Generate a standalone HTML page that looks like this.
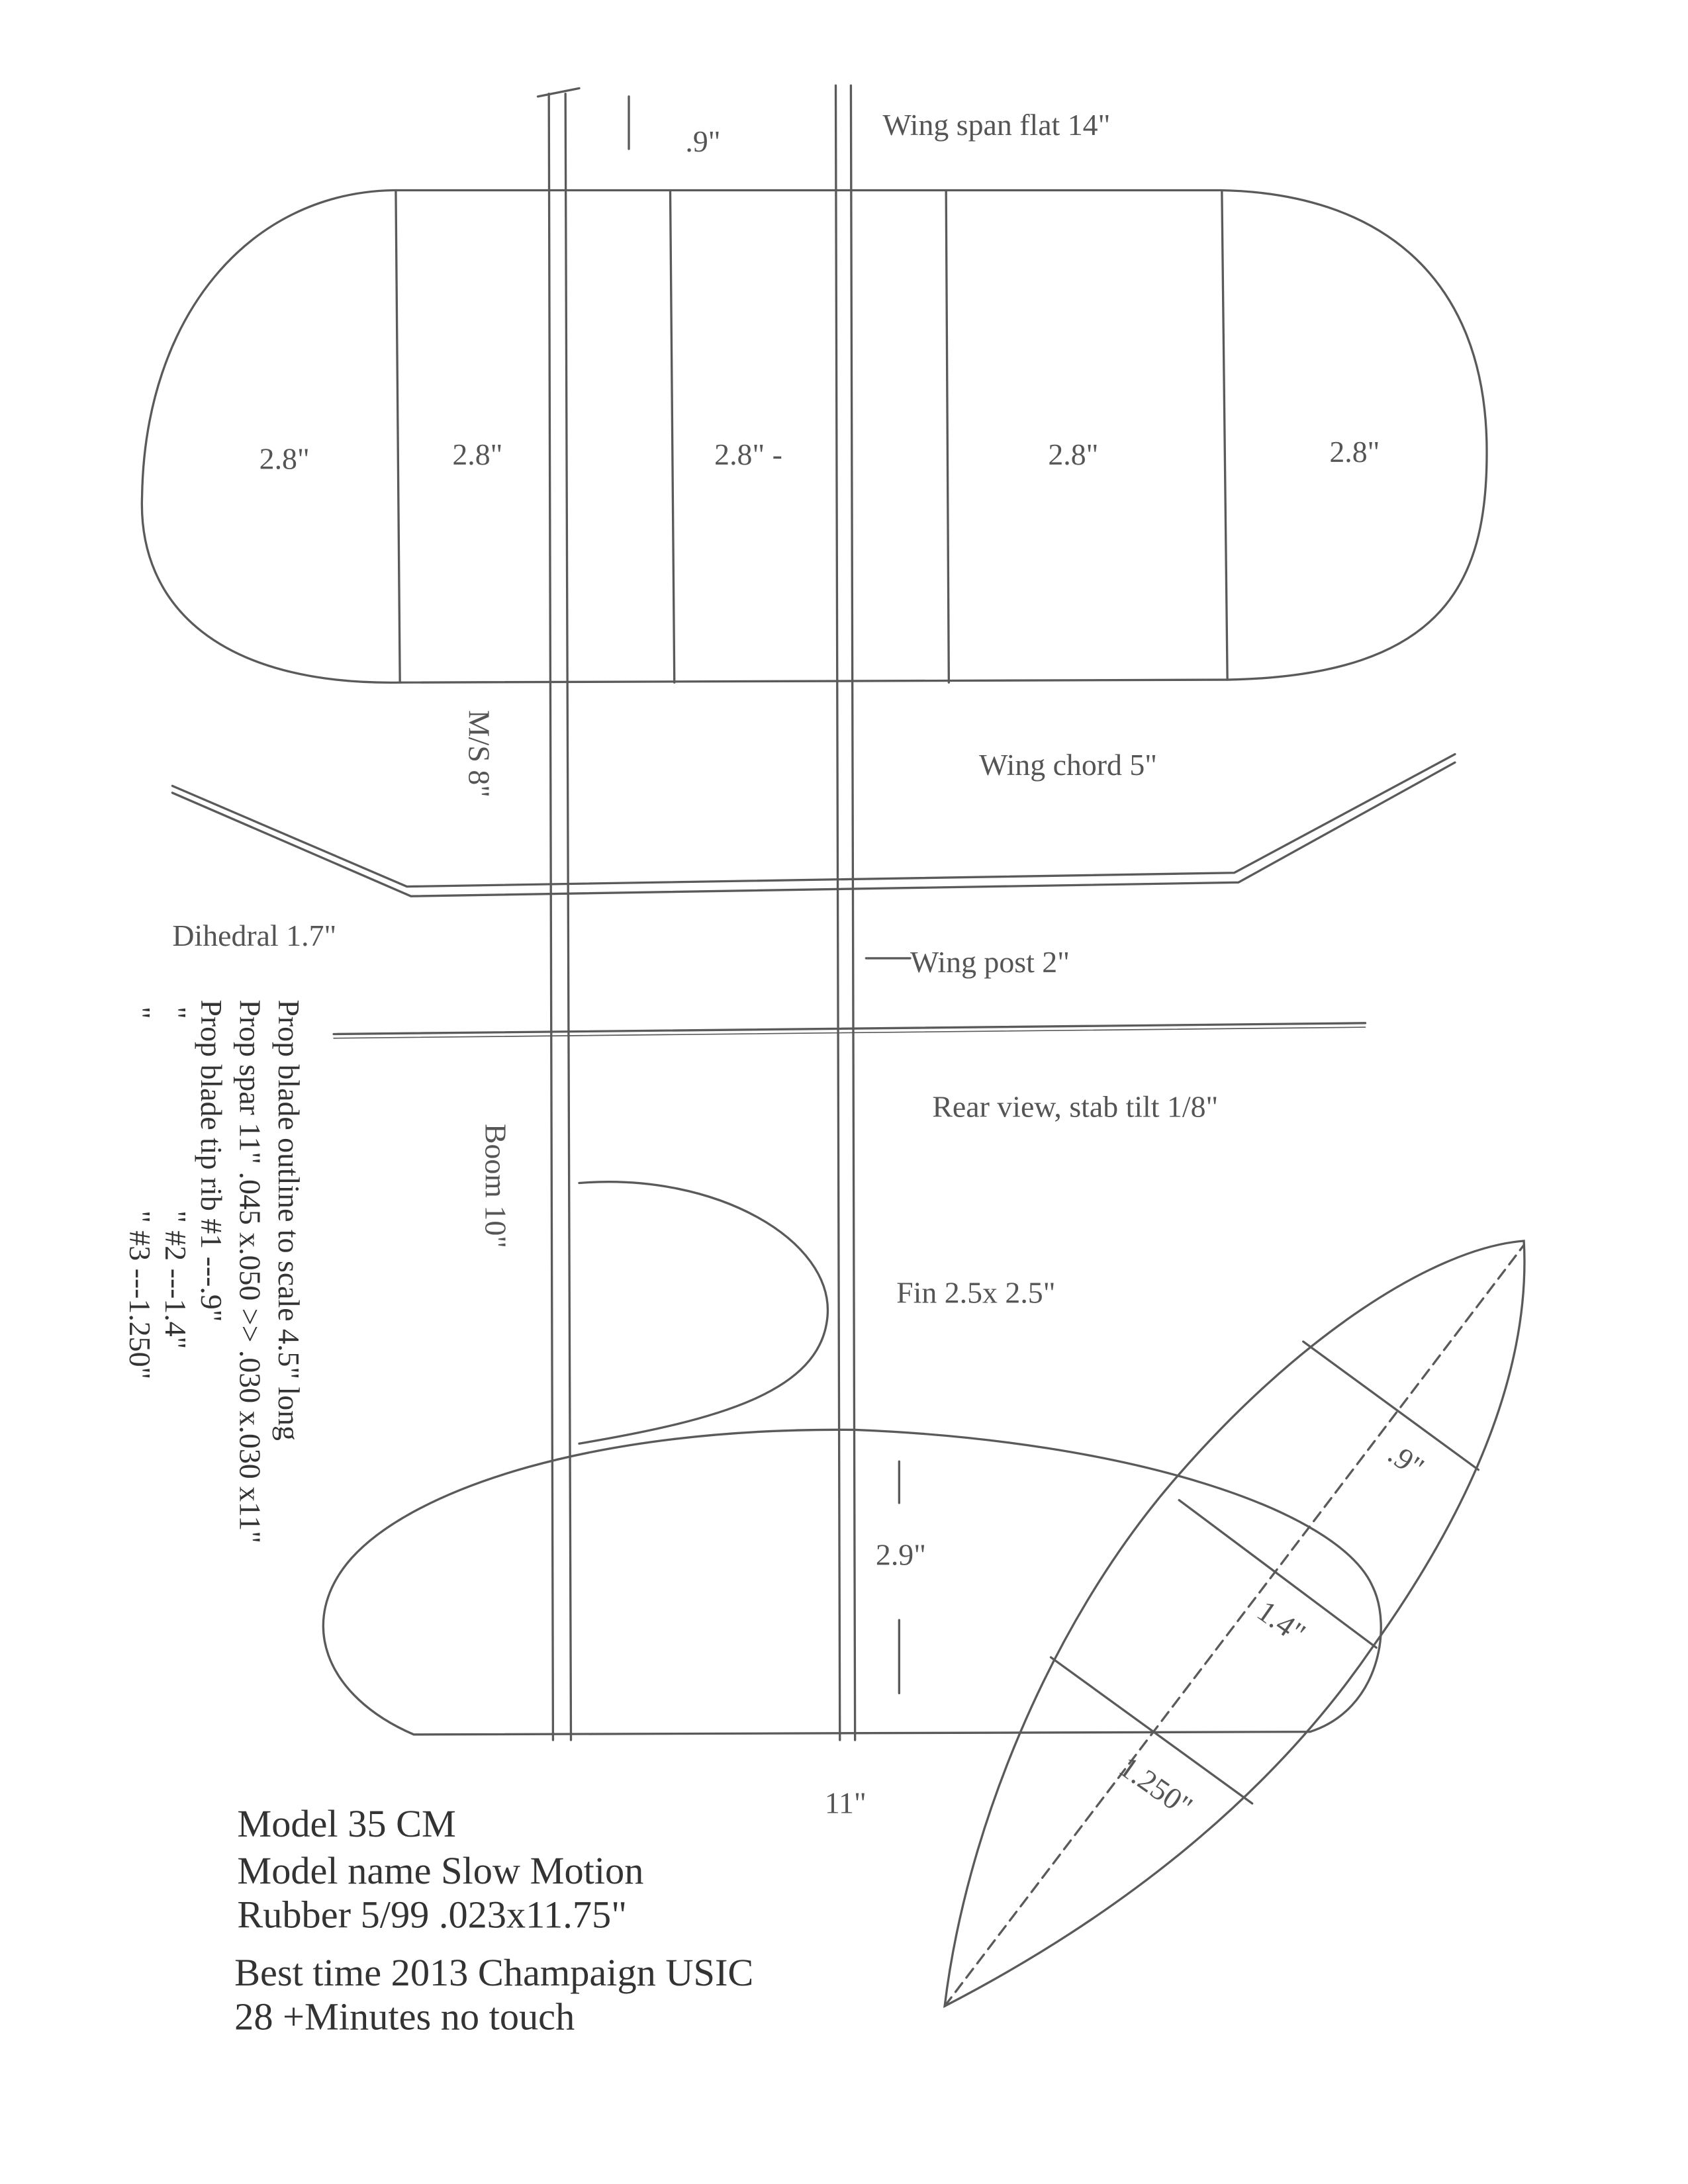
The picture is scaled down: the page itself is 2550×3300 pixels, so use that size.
<!DOCTYPE html>
<html><head><meta charset="utf-8"><style>
html,body{margin:0;padding:0;background:#fff;}
svg{display:block;}
text{font-family:"Liberation Serif",serif;fill:#555;}
</style></head><body>
<svg width="2550" height="3300" viewBox="0 0 1224 1584" xmlns="http://www.w3.org/2000/svg">
<g fill="none" stroke="#5a5a5a" stroke-width="1.6" stroke-linecap="round">
<path d="M285,138 L885,138 C1000,140 1075,200 1078,320 C1080,420 1050,490 890,493 L290,495 C160,497 100,440 103,360 C105,230 180,140 285,138 Z"/>
<line x1="287" y1="138" x2="290" y2="495"/>
<line x1="486" y1="138" x2="489" y2="495"/>
<line x1="686" y1="138" x2="688" y2="495"/>
<line x1="886" y1="138" x2="890" y2="493"/>
<line x1="398" y1="68" x2="401" y2="1262"/>
<line x1="410" y1="68" x2="414" y2="1262"/>
<line x1="606" y1="62" x2="609" y2="1262"/>
<line x1="617" y1="62" x2="620" y2="1262"/>
<line x1="390" y1="70" x2="420" y2="64"/>
<line x1="456" y1="70" x2="456" y2="108"/>
<path d="M125,570 L295,643 L895,633 L1055,547"/>
<path d="M125,575 L298,650 L898,640 L1055,553"/>
<line x1="628" y1="695" x2="660" y2="695"/>
<line x1="242" y1="750" x2="990" y2="742"/>
<line x1="242" y1="753" x2="990" y2="745" stroke-width="0.8"/>
<path d="M420,858 C520,850 605,900 600,955 C595,1010 520,1030 420,1047"/>
<path d="M300,1258 L950,1256 C1000,1240 1010,1180 995,1150 C970,1095 820,1045 620,1037 C430,1035 300,1080 255,1130 C215,1175 235,1230 300,1258 Z"/>
<line x1="652" y1="1060" x2="652" y2="1090"/>
<line x1="652" y1="1175" x2="652" y2="1228"/>
<!-- prop blade -->
<path d="M685,1455 C700,1330 760,1180 850,1075 C940,970 1040,905 1105,900 C1110,990 1070,1090 995,1195 C930,1290 830,1380 685,1455 Z"/>
<line x1="685" y1="1455" x2="1105" y2="903" stroke-dasharray="8 5"/>
<line x1="945" y1="973" x2="1072" y2="1066"/>
<line x1="855" y1="1088" x2="998" y2="1195"/>
<line x1="762" y1="1202" x2="908" y2="1308"/>
</g>
<g font-size="22">
<text x="188" y="340">2.8"</text>
<text x="328" y="337">2.8"</text>
<text x="518" y="337">2.8" -</text>
<text x="760" y="337">2.8"</text>
<text x="964" y="335">2.8"</text>
<text x="497" y="110">.9"</text>
<text x="640" y="98">Wing span flat  14"</text>
<text x="710" y="562">Wing chord  5"</text>
<text x="125" y="686">Dihedral  1.7"</text>
<text x="660" y="705">Wing post 2"</text>
<text x="676" y="810">Rear view,  stab tilt  1/8"</text>
<text x="650" y="945">Fin 2.5x 2.5"</text>
<text x="635" y="1135">2.9"</text>
<text x="598" y="1315">11"</text>
<text transform="translate(340,515) rotate(90)">M/S 8"</text>
<text transform="translate(352,815) rotate(90)">Boom 10"</text>
<text transform="translate(1005,1058) rotate(35)">.9"</text>
<text transform="translate(910,1172) rotate(35)">1.4"</text>
<text transform="translate(810,1285) rotate(35)">1.250"</text>
</g>
<g font-size="22">
<text transform="translate(202,725) rotate(90)" style="fill:#333">Prop blade outline to scale 4.5" long</text>
<text transform="translate(174,725) rotate(90)" style="fill:#333">Prop spar 11"  .045 x.050 &gt;&gt; .030 x.030 x11"</text>
<text transform="translate(146,725) rotate(90)" style="fill:#333">Prop blade tip rib  #1 ---.9"</text>
<text transform="translate(120,730) rotate(90)" style="fill:#333">"</text>
<text transform="translate(120,878) rotate(90)" style="fill:#333">"   #2 ---1.4"</text>
<text transform="translate(94,730) rotate(90)" style="fill:#333">"</text>
<text transform="translate(94,878) rotate(90)" style="fill:#333">"   #3 ---1.250"</text>
</g>
<g font-size="28">
<text x="172" y="1332" style="fill:#333">Model 35 CM</text>
<text x="172" y="1366" style="fill:#333">Model name  Slow Motion</text>
<text x="172" y="1398" style="fill:#333">Rubber  5/99    .023x11.75"</text>
<text x="170" y="1440" style="fill:#333">Best time 2013 Champaign USIC</text>
<text x="170" y="1472" style="fill:#333">28 +Minutes  no touch</text>
</g>
</svg>
</body></html>
